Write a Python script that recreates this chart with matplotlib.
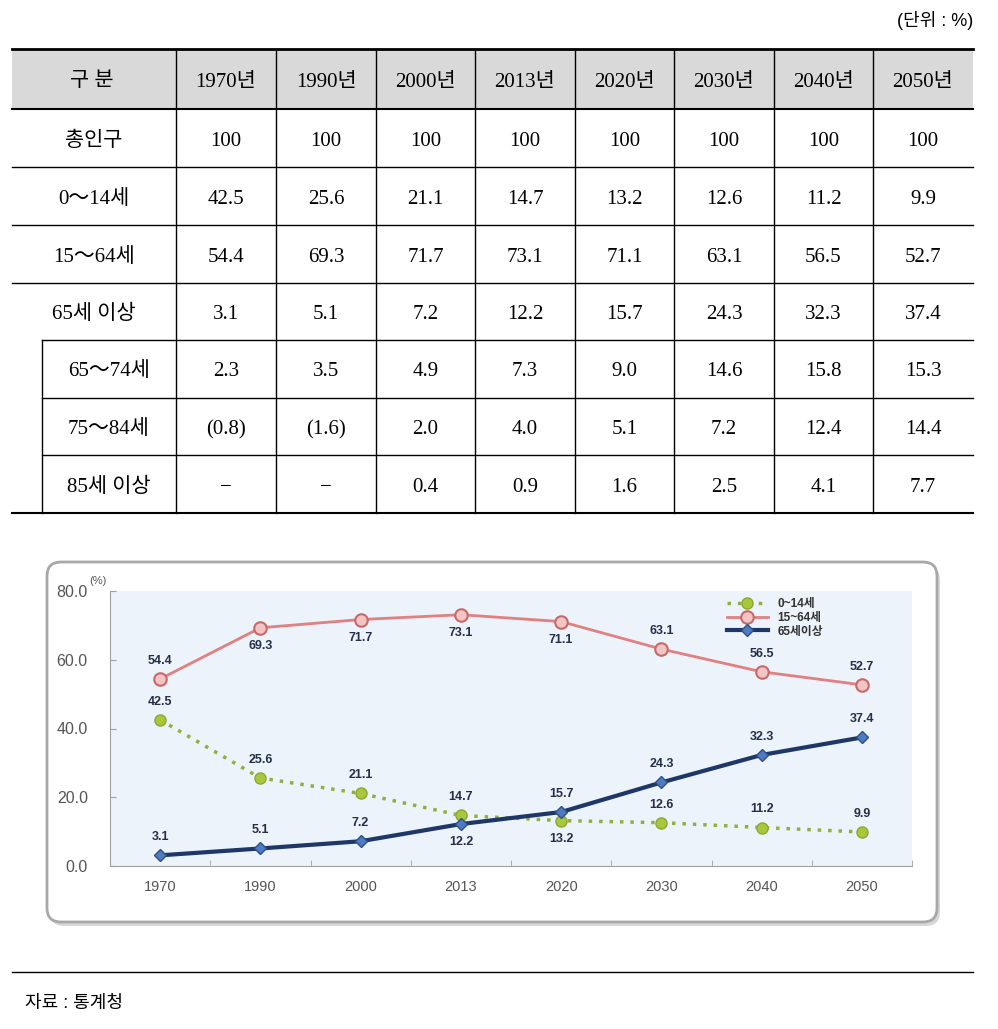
import matplotlib
matplotlib.use("Agg")
import matplotlib.pyplot as plt
from matplotlib.patches import Rectangle, FancyBboxPatch
import numpy as np

plt.rcParams['font.family'] = ['Liberation Serif', 'Noto Sans CJK KR']

# ---- data ----
years = ["1970", "1990", "2000", "2013", "2020", "2030", "2040", "2050"]
header_first = "구 분"
row_labels = ["총인구", "0～14세", "15～64세", "65세 이상", "65～74세", "75～84세", "85세 이상"]
total = ["100", "100", "100", "100", "100", "100", "100", "100"]
age_0_14 = [42.5, 25.6, 21.1, 14.7, 13.2, 12.6, 11.2, 9.9]
age_15_64 = [54.4, 69.3, 71.7, 73.1, 71.1, 63.1, 56.5, 52.7]
age_65_up = [3.1, 5.1, 7.2, 12.2, 15.7, 24.3, 32.3, 37.4]
age_65_74 = ["2.3", "3.5", "4.9", "7.3", "9.0", "14.6", "15.8", "15.3"]
age_75_84 = ["(0.8)", "(1.6)", "2.0", "4.0", "5.1", "7.2", "12.4", "14.4"]
age_85_up = ["−", "−", "0.4", "0.9", "1.6", "2.5", "4.1", "7.7"]
series_names = ["0~14세", "15~64세", "65세이상"]
# label placement for each point (1 above, -1 below)
pos_0_14 = [1, 1, 1, 1, -1, 1, 1, 1]
pos_15_64 = [1, -1, -1, -1, -1, 1, 1, 1]
pos_65_up = [1, 1, 1, -1, 1, 1, 1, 1]

W, H = 998, 1029
fig = plt.figure(figsize=(W / 100, H / 100), dpi=100)
bg = fig.add_axes([0, 0, 1, 1])
bg.set_xlim(0, W)
bg.set_ylim(H, 0)
bg.axis("off")

# ---- table ----
x0, x1 = 12, 973
col_edges = [12, 176, 276, 376, 475, 575, 674, 774, 873, 973]
row_edges = [49, 109, 167, 225, 283, 340, 398, 455, 513]
sub_x = 42
fs = 15
dy = 3  # small nudge so text sits mid-cell

bg.text(973, 20, "(단위 : %)", ha="right", va="center", fontsize=13,
        family=['Liberation Sans', 'Noto Sans CJK KR'])
bg.add_patch(Rectangle((x0, row_edges[0]), x1 - x0, row_edges[1] - row_edges[0],
                       facecolor="#d9d9d9", edgecolor="none"))
bg.plot([x0, x1], [row_edges[0]] * 2, color="black", lw=2)
for i, y in enumerate(row_edges[1:], start=1):
    xs = sub_x if 5 <= i <= 7 else x0
    bg.plot([xs, x1], [y, y], color="black", lw=1.5 if i in (1, 8) else 1)
for cx in col_edges[1:-1]:
    bg.plot([cx, cx], [row_edges[0], row_edges[-1]], color="black", lw=1)
bg.plot([sub_x, sub_x], [row_edges[5], row_edges[-1]], color="black", lw=1)

centers = [(col_edges[i] + col_edges[i + 1]) / 2 for i in range(len(col_edges) - 1)]
hy = (row_edges[0] + row_edges[1]) / 2 + dy
bg.text(centers[0] - 2, hy, header_first, ha="center", va="center", fontsize=fs)
for j, yr in enumerate(years):
    bg.text(centers[j + 1], hy, yr + "년", ha="center", va="center", fontsize=fs)

table_rows = [total,
              [f"{v:.1f}" for v in age_0_14],
              [f"{v:.1f}" for v in age_15_64],
              [f"{v:.1f}" for v in age_65_up],
              age_65_74, age_75_84, age_85_up]
for i, (lab, vals) in enumerate(zip(row_labels, table_rows)):
    yc = (row_edges[i + 1] + row_edges[i + 2]) / 2 + dy
    lx = (sub_x + col_edges[1]) / 2 if i >= 4 else centers[0]
    bg.text(lx, yc, lab, ha="center", va="center", fontsize=fs)
    for j, v in enumerate(vals):
        bg.text(centers[j + 1], yc, v, ha="center", va="center", fontsize=fs)

# ---- chart box ----
bg.add_patch(FancyBboxPatch((50, 566), 890, 360, boxstyle="round,pad=0,rounding_size=14",
                            facecolor="#d8d8d8", edgecolor="none"))
bg.add_patch(FancyBboxPatch((47, 562), 890, 360, boxstyle="round,pad=0,rounding_size=14",
                            facecolor="white", edgecolor="#a8a8a8", lw=2))

# source line
bg.plot([x0, x1], [972, 972], color="black", lw=1)
bg.text(25, 1003, "자료 : 통계청", ha="left", va="center", fontsize=13,
        family=['Liberation Sans', 'Noto Sans CJK KR'])

# ---- chart ----
pl, pr, pt, pb = 110, 912, 591, 866
ax = fig.add_axes([pl / W, 1 - pb / H, (pr - pl) / W, (pb - pt) / H])
ax.set_facecolor("#edf3fa")
x = np.arange(len(years))
sans = ['Liberation Sans', 'Noto Sans CJK KR']

ax.plot(x, age_0_14, color="#8fb040", lw=2.5, ls=(0, (1, 2)), marker="o", ms=8,
        mfc="#a8c83c", mec="#8aa838", label=series_names[0], zorder=3)
ax.plot(x, age_15_64, color="#e08080", lw=2, marker="o", ms=9,
        mfc="#f2c4c4", mec="#c86868", mew=1.5, label=series_names[1], zorder=3)
ax.plot(x, age_65_up, color="#1f3768", lw=3, marker="D", ms=6.5,
        mfc="#4f7cc0", mec="#2d4f8c", label=series_names[2], zorder=4)

for vals, poss in [(age_0_14, pos_0_14), (age_15_64, pos_15_64), (age_65_up, pos_65_up)]:
    for xi, v, p in zip(x, vals, poss):
        ax.annotate(f"{v:.1f}", (xi, v), xytext=(0, 13 * p), textcoords="offset points",
                    ha="center", va="center", fontsize=9, fontweight="bold",
                    color="#243049", family=sans, zorder=5)

ax.set_xlim(-0.5, len(years) - 0.5)
ax.set_ylim(0, 80)
ax.set_yticks([0, 20, 40, 60, 80])
ax.set_yticklabels([f"{v:.1f}" for v in [0, 20, 40, 60, 80]])
ax.set_xticks(x)
ax.set_xticklabels(years)
ax.set_xticks(np.arange(-0.5, len(years), 1), minor=True)
ax.tick_params(axis="x", which="major", length=0, pad=10, labelsize=10.5, labelcolor="#555555")
ax.tick_params(axis="x", which="minor", length=4, color="#a0a0a0", direction="in")
ax.tick_params(axis="y", length=4, direction="in", color="#a0a0a0", pad=16,
               labelsize=11.5, labelcolor="#555555")
for lab in ax.get_xticklabels() + ax.get_yticklabels():
    lab.set_family(sans)
for s in ["top", "right"]:
    ax.spines[s].set_visible(False)
for s in ["left", "bottom"]:
    ax.spines[s].set_color("#a0a0a0")

ax.text(-0.62, 83, "(%)", fontsize=8, color="#555555", family=sans, ha="center",
        va="center", clip_on=False)

leg = ax.legend(loc="upper left", bbox_to_anchor=(0.76, 1.0), frameon=False,
                handlelength=3.5, labelspacing=0.15, borderaxespad=0.2,
                prop={"family": sans, "size": 8.5, "weight": "bold"})
for t in leg.get_texts():
    t.set_color("#333333")

fig.savefig("out.png", dpi=100)
